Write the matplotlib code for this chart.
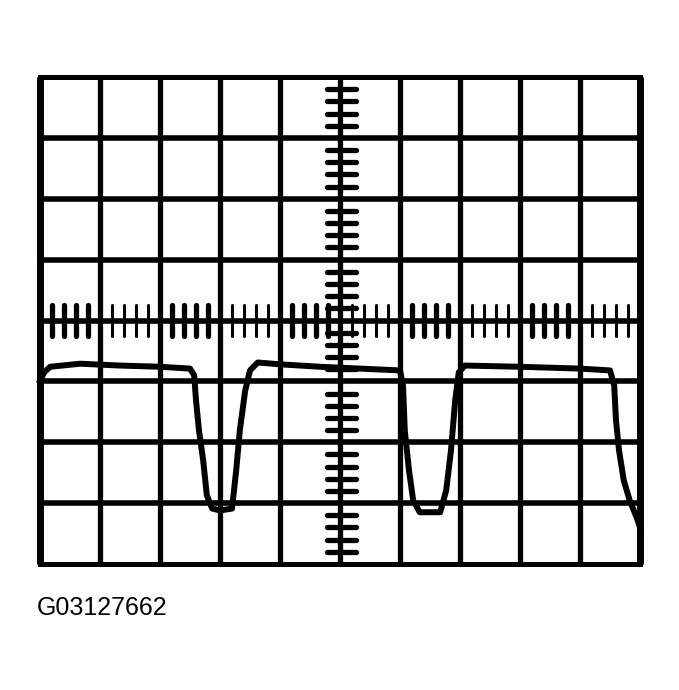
import numpy as np
import matplotlib.pyplot as plt

# scope screen: 10 x 8 divisions, centre at (5, 0)
n_xdiv = 10
n_ydiv = 8

# trace (x in divisions, y in divisions from centre)
trace_x = [0.0, 0.07, 0.17, 0.67, 1.33, 2.0, 2.5, 2.57, 2.6, 2.65, 2.72, 2.78, 2.87, 3.0, 3.2,
           3.27, 3.33, 3.42, 3.5, 3.63, 4.0, 4.67, 5.33, 6.0, 6.05, 6.08, 6.15, 6.22, 6.33,
           6.67, 6.77, 6.85, 6.92, 6.98, 7.08, 8.0, 9.0, 9.5, 9.57, 9.6, 9.65, 9.73, 9.83,
           9.95, 10.0]
trace_y = [-0.99, -0.85, -0.76, -0.71, -0.74, -0.76, -0.79, -0.90, -1.31, -1.81, -2.30, -2.87,
           -3.09, -3.12, -3.09, -2.46, -1.81, -1.15, -0.82, -0.69, -0.72, -0.76, -0.79, -0.82,
           -1.07, -1.81, -2.46, -2.96, -3.15, -3.15, -2.79, -2.13, -1.31, -0.85, -0.74,
           -0.76, -0.79, -0.82, -1.07, -1.64, -2.13, -2.63, -2.96, -3.25, -3.40]

# divisions of the centre scale drawn with heavy ticks
heavy_divs = [0, 2, 4, 6, 8]
caption = 'G03127662'

fig = plt.figure(figsize=(6.79, 6.90), dpi=100)
ax = fig.add_axes([40/679, 126/690, 600/679, 487/690])
ax.set_xlim(0, n_xdiv)
ax.set_ylim(-n_ydiv/2, n_ydiv/2)
ax.axis('off')

# graticule
for i in range(n_xdiv + 1):
    lw = 5.0 if i in (0, n_xdiv) else 3.8
    ax.plot([i, i], [-4, 4], color='black', lw=lw, solid_capstyle='butt', clip_on=False)
for j in range(-4, 5):
    lw = 3.6 if j in (-4, 4) else 4.0
    ax.plot([0, n_xdiv], [j, j], color='black', lw=lw, solid_capstyle='projecting', clip_on=False)

# minor ticks on the centre horizontal axis
for k in range(n_xdiv):
    lw = 3.8 if k in heavy_divs else 2.2
    for m in range(1, 5):
        xx = k + m * 0.2
        ax.plot([xx, xx], [-0.25, 0.25], color='black', lw=lw, solid_capstyle='round')

# minor ticks on the centre vertical axis
for k in range(-4, 4):
    for m in range(1, 5):
        yy = k + m * 0.2
        ax.plot([4.78, 5.27], [yy, yy], color='black', lw=3.8, solid_capstyle='round')

# trace
ax.plot(trace_x, trace_y, color='black', lw=4.3, solid_joinstyle='round', clip_on=False)

fig.text(37/679, 1 - 615/690, caption, fontsize=18, family='Liberation Sans',
         ha='left', va='baseline')

fig.savefig('out.png', dpi=100, facecolor='white')
